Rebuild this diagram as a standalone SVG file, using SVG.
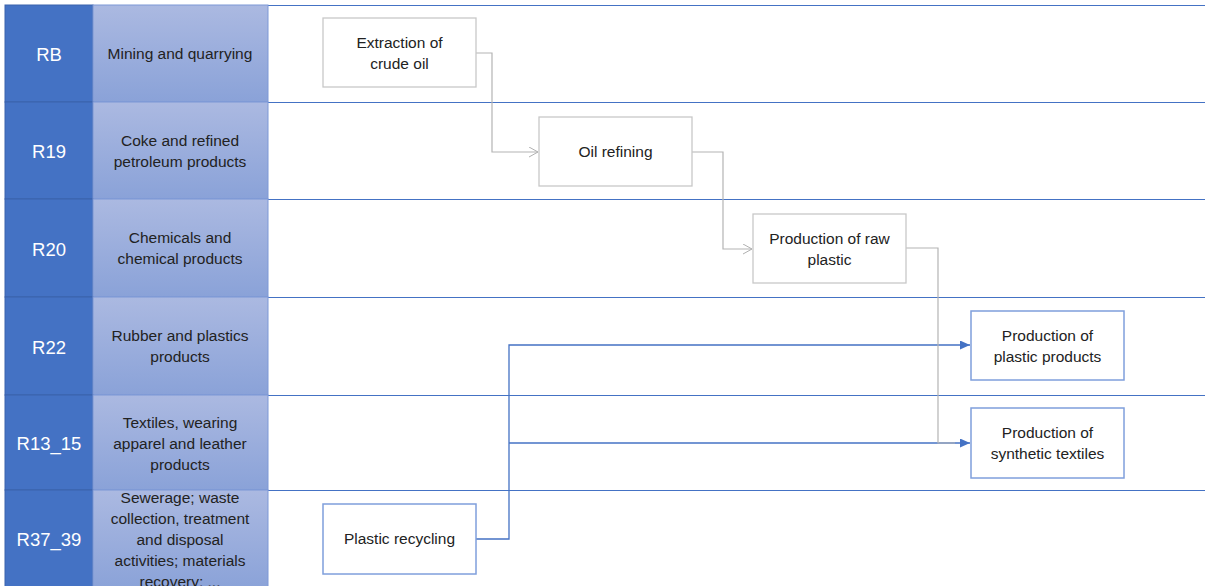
<svg xmlns="http://www.w3.org/2000/svg" width="1205" height="586" viewBox="0 0 1205 586">
<defs>
<linearGradient id="lg" x1="0" y1="0" x2="0" y2="1">
<stop offset="0" stop-color="#abb9e1"/>
<stop offset="1" stop-color="#8aa2d8"/>
</linearGradient>
<marker id="ag" markerWidth="12" markerHeight="12" refX="10" refY="5" orient="auto" markerUnits="userSpaceOnUse">
<path d="M1,0 L10,5 L1,10" fill="none" stroke="#b0b0b0" stroke-width="1"/>
</marker>
<marker id="ab" markerWidth="12" markerHeight="12" refX="10" refY="4.5" orient="auto" markerUnits="userSpaceOnUse">
<path d="M0,0 L10,4.5 L0,9 Z" fill="#4472c4"/>
</marker>
</defs>
<style>
.dk{fill:#4472c4;stroke:#3a62ab;stroke-width:1}
.lt{fill:url(#lg);stroke:#7c98d6;stroke-width:1}
.lane{stroke:#4472c4;stroke-width:1;fill:none}
.code{font-family:"Liberation Sans",Arial,sans-serif;font-size:18.5px;fill:#ffffff;text-anchor:middle}
.name{font-family:"Liberation Sans",Arial,sans-serif;font-size:15.5px;fill:#222;text-anchor:middle}
.box{fill:#fff;stroke:#c8c8c8;stroke-width:1.3}
.boxb{fill:#fff;stroke:#7f9fdc;stroke-width:1.5}
.t{font-family:"Liberation Sans",Arial,sans-serif;font-size:15.5px;fill:#222;text-anchor:middle}
.cg{fill:none;stroke:#b4b4b4;stroke-width:1.2}
.cb{fill:none;stroke:#4472c4;stroke-width:1.3}
</style>
<rect width="1205" height="586" fill="#fff"/>
<g id="lanes">
<line class="lane" x1="268" y1="5.5" x2="1205" y2="5.5"/>
<line class="lane" x1="268" y1="102.5" x2="1205" y2="102.5"/>
<line class="lane" x1="268" y1="199.5" x2="1205" y2="199.5"/>
<line class="lane" x1="268" y1="297.5" x2="1205" y2="297.5"/>
<line class="lane" x1="268" y1="395.5" x2="1205" y2="395.5"/>
<line class="lane" x1="268" y1="490.5" x2="1205" y2="490.5"/>
</g>
<g id="row-RB">
<rect class="dk" x="5" y="5" width="88" height="97"/>
<rect class="lt" x="93" y="5" width="175" height="97"/>
<text class="code" x="49" y="61">RB</text>
<text class="name" x="180" y="59">Mining and quarrying</text>
</g>
<g id="row-R19">
<rect class="dk" x="5" y="102" width="88" height="97"/>
<rect class="lt" x="93" y="102" width="175" height="97"/>
<text class="code" x="49" y="158">R19</text>
<text class="name" x="180" y="146">Coke and refined</text>
<text class="name" x="180" y="167">petroleum products</text>
</g>
<g id="row-R20">
<rect class="dk" x="5" y="199" width="88" height="98"/>
<rect class="lt" x="93" y="199" width="175" height="98"/>
<text class="code" x="49" y="256">R20</text>
<text class="name" x="180" y="243">Chemicals and</text>
<text class="name" x="180" y="264">chemical products</text>
</g>
<g id="row-R22">
<rect class="dk" x="5" y="297" width="88" height="98"/>
<rect class="lt" x="93" y="297" width="175" height="98"/>
<text class="code" x="49" y="354">R22</text>
<text class="name" x="180" y="341">Rubber and plastics</text>
<text class="name" x="180" y="362">products</text>
</g>
<g id="row-R13_15">
<rect class="dk" x="5" y="395" width="88" height="95"/>
<rect class="lt" x="93" y="395" width="175" height="95"/>
<text class="code" x="49" y="450">R13_15</text>
<text class="name" x="180" y="428">Textiles, wearing</text>
<text class="name" x="180" y="449">apparel and leather</text>
<text class="name" x="180" y="470">products</text>
</g>
<g id="row-R37_39">
<rect class="dk" x="5" y="490" width="88" height="100"/>
<rect class="lt" x="93" y="490" width="175" height="100"/>
<text class="code" x="49" y="546">R37_39</text>
<text class="name" x="180" y="503">Sewerage; waste</text>
<text class="name" x="180" y="524">collection, treatment</text>
<text class="name" x="180" y="545">and disposal</text>
<text class="name" x="180" y="566">activities; materials</text>
<text class="name" x="180" y="587">recovery; ...</text>
</g>
<g id="connectors">
<path class="cg" d="M476,53 H492 V152 H538" marker-end="url(#ag)"/>
<path class="cg" d="M692,152 H723 V249 H752" marker-end="url(#ag)"/>
<path class="cb" d="M476,539 H509 V345 H970" marker-end="url(#ab)"/>
<path class="cb" d="M509,443 H970" marker-end="url(#ab)"/>
<path class="cg" d="M906,248 H938 V443 H955"/>
</g>
<g id="n-extraction">
<rect class="box" x="323" y="18" width="153" height="69"/>
<text class="t" x="399.5" y="48">Extraction of</text>
<text class="t" x="399.5" y="69">crude oil</text>
</g>
<g id="n-refining">
<rect class="box" x="539" y="117" width="153" height="69"/>
<text class="t" x="615.5" y="157">Oil refining</text>
</g>
<g id="n-rawplastic">
<rect class="box" x="753" y="214" width="153" height="69"/>
<text class="t" x="829.5" y="244">Production of raw</text>
<text class="t" x="829.5" y="265">plastic</text>
</g>
<g id="n-plasticproducts">
<rect class="boxb" x="971" y="311" width="153" height="69"/>
<text class="t" x="1047.5" y="341">Production of</text>
<text class="t" x="1047.5" y="362">plastic products</text>
</g>
<g id="n-textiles">
<rect class="boxb" x="971" y="408" width="153" height="70"/>
<text class="t" x="1047.5" y="438">Production of</text>
<text class="t" x="1047.5" y="459">synthetic textiles</text>
</g>
<g id="n-recycling">
<rect class="boxb" x="323" y="504" width="153" height="70"/>
<text class="t" x="399.5" y="544">Plastic recycling</text>
</g>
</svg>
